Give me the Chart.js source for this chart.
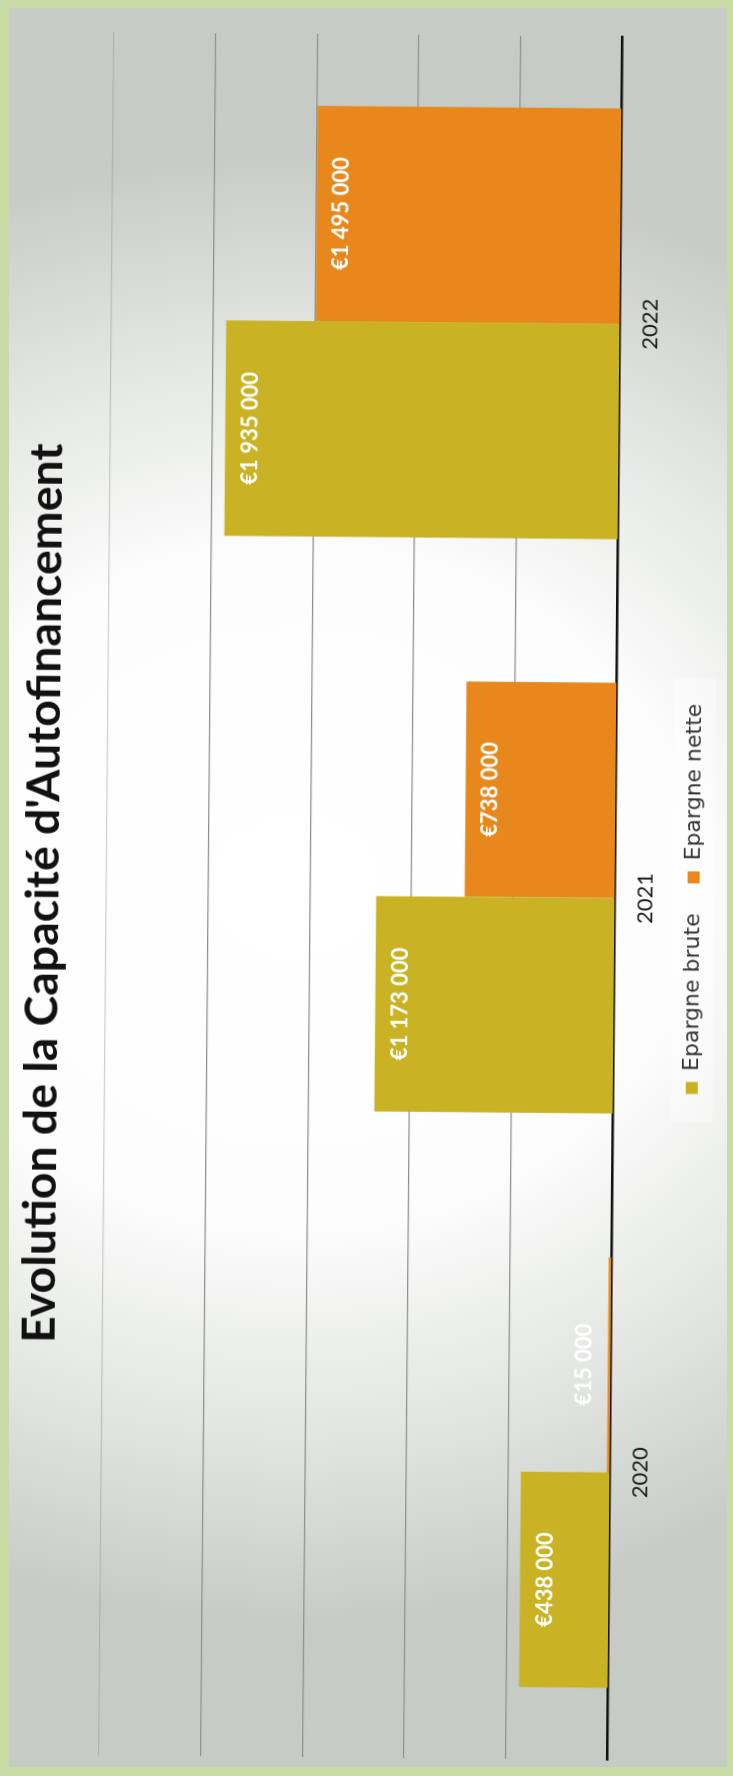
<!DOCTYPE html>
<html><head><meta charset="utf-8">
<script src="https://cdn.jsdelivr.net/npm/chart.js@4.4.1/dist/chart.umd.min.js"></script>
<style>
html,body{margin:0;padding:0;}
body{width:733px;height:1776px;overflow:hidden;background:#c8dba4;position:relative;}
#panel{position:absolute;left:9px;top:8px;width:718px;height:1759px;
 background:radial-gradient(ellipse 120% 42% at 40% 50%, #ffffff 0%, #fdfdfd 45%, #e4e7e3 72%, #c7cbc6 100%);}
#wrap{position:absolute;left:-521.5px;top:521.5px;width:1776px;height:733px;transform:rotate(-89.5deg);transform-origin:50% 50%;}
canvas{display:block;}
</style></head>
<body>
<div id="panel"></div>
<div id="wrap"><canvas id="c" width="1776" height="733"></canvas></div>
<script>
const titleText = "Evolution de la Capacité d'Autofinancement";
const categories = ['2020', '2021', '2022'];
const seriesNames = ['Epargne brute', 'Epargne nette'];
const epargneBrute = [438000, 1173000, 1935000];
const epargneNette = [15000, 738000, 1495000];
const valueTicks = [0, 500000, 1000000, 1500000, 2000000, 2500000];

const FONT = 'Lato, "DejaVu Sans", sans-serif';
const WIDE = '"DejaVu Sans", sans-serif';
const fmt = v => '\u20AC' + String(v).replace(/\B(?=(\d{3})+(?!\d))/g, ' ');

// fit title width
const mctx = document.createElement('canvas').getContext('2d');
mctx.font = 'bold 100px ' + FONT;
const titleSize = Math.round(100 * 900 / mctx.measureText(titleText).width * 10) / 10;

const barLabels = {
  id: 'barLabels',
  afterDatasetsDraw(chart) {
    const ctx = chart.ctx;
    ctx.save();
    ctx.font = 'bold 22px ' + FONT;
    ctx.textAlign = 'center';
    ctx.textBaseline = 'middle';
    ctx.fillStyle = '#ffffff';
    chart.data.datasets.forEach((ds, i) => {
      chart.getDatasetMeta(i).data.forEach((bar, j) => {
        const h = bar.base - bar.y;
        const y = h > 60 ? bar.y + 25 : bar.y - 24;
        ctx.fillText(fmt(ds.data[j]), bar.x, y);
      });
    });
    ctx.restore();
  }
};

const legendBg = {
  id: 'legendBg',
  beforeDraw(chart) {
    const lg = chart.legend;
    if (!lg || !lg.legendHitBoxes || !lg.legendHitBoxes.length) return;
    const hb = lg.legendHitBoxes;
    const l = hb[0].left - 28, r = hb[hb.length - 1].left + hb[hb.length - 1].width + 25;
    const cy = hb[0].top + hb[0].height / 2;
    const ctx = chart.ctx;
    ctx.save();
    ctx.fillStyle = 'rgba(255,255,255,0.35)';
    ctx.fillRect(l, cy - 21, r - l, 42);
    ctx.restore();
  }
};

new Chart(document.getElementById('c'), {
  type: 'bar',
  data: {
    labels: categories,
    datasets: [
      { label: seriesNames[0], data: epargneBrute, backgroundColor: '#c9b223', borderWidth: 0 },
      { label: seriesNames[1], data: epargneNette, backgroundColor: '#e8871b', borderWidth: 0 }
    ]
  },
  options: {
    responsive: false,
    animation: false,
    devicePixelRatio: 1,
    layout: { padding: { left: 19, right: 34, top: 0, bottom: 19 } },
    datasets: { bar: { categoryPercentage: 0.75, barPercentage: 1.0 } },
    scales: {
      x: {
        grid: { color: 'rgba(0,0,0,0)', drawTicks: false },
        border: { display: true, color: '#111111', width: 2.5 },
        ticks: { color: '#1c1c1c', font: { family: FONT, size: 22 }, padding: 17 },
        afterFit: (s) => { s.height -= 23; }
      },
      y: {
        min: valueTicks[0],
        max: valueTicks[valueTicks.length - 1],
        afterBuildTicks: (axis) => { axis.ticks = valueTicks.map(v => ({ value: v })); },
        ticks: { display: false },
        border: { display: false },
        grid: {
          drawTicks: false,
          lineWidth: 1.3,
          color: (c) => (c.tick && c.tick.value === valueTicks[valueTicks.length - 1]) ? 'rgba(150,150,150,0.45)' : '#8f8f8f'
        }
      }
    },
    plugins: {
      title: {
        display: true,
        text: titleText,
        color: '#111111',
        font: { family: FONT, weight: 'bold', size: titleSize, lineHeight: 1.2 },
        padding: { top: 15, bottom: 35 }
      },
      legend: {
        position: 'bottom',
        labels: {
          color: '#333333',
          font: { family: WIDE, size: 22 },
          boxWidth: 12,
          boxHeight: 12,
          padding: 30
        }
      },
      tooltip: { enabled: false }
    }
  },
  plugins: [legendBg, barLabels]
});
</script>
</body></html>
